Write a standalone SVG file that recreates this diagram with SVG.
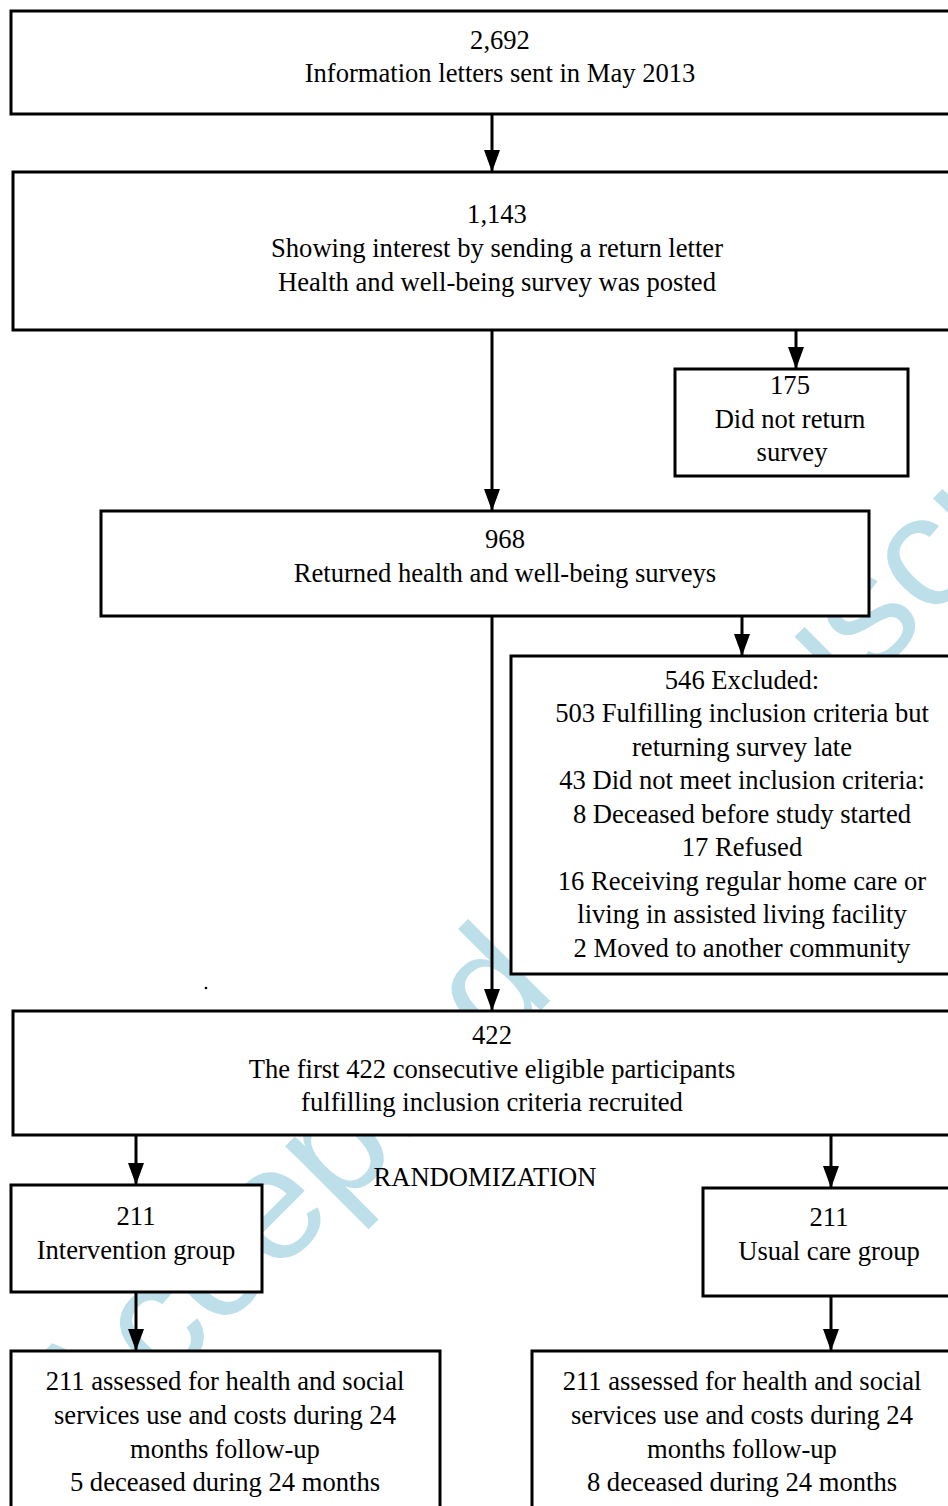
<svg xmlns="http://www.w3.org/2000/svg" width="948" height="1506" viewBox="0 0 948 1506">
<style>
.box{fill:#fff;stroke:#000;stroke-width:3}
.t{font-family:"Liberation Serif","Times New Roman",serif;font-size:26.6px;fill:#000;text-anchor:middle}
.c{stroke:#000;stroke-width:3;fill:none;marker-end:url(#ah)}
.wm{font-family:"Liberation Sans",Arial,sans-serif;font-size:160px;fill:#bcdfea}
</style>
<defs>
<marker id="ah" viewBox="0 0 22 16" refX="22" refY="8" markerWidth="22" markerHeight="16" markerUnits="userSpaceOnUse" orient="auto">
<path d="M0,0 L22,8 L0,16 z" fill="#000"/>
</marker>
</defs>
<rect width="948" height="1506" fill="#fff"/>
<text class="wm" transform="translate(86,1465) rotate(-45)">Accepted Manuscript</text>

<g id="n1"><rect class="box" x="11" y="11" width="980" height="103"/>
<text class="t" x="500" y="49">2,692</text><text class="t" x="500" y="82">Information letters sent in May 2013</text></g>

<g id="n2"><rect class="box" x="13" y="172" width="980" height="158"/>
<text class="t" x="497" y="223">1,143</text><text class="t" x="497" y="257">Showing interest by sending a return letter</text><text class="t" x="497" y="291">Health and well-being survey was posted</text></g>

<g id="n3"><rect class="box" x="675" y="369" width="233" height="107"/>
<text class="t" x="790" y="394">175</text><text class="t" x="790" y="428">Did not return</text><text class="t" x="792" y="461">survey</text></g>

<g id="n4"><rect class="box" x="101" y="511" width="768" height="105"/>
<text class="t" x="505" y="548">968</text><text class="t" x="505" y="582">Returned health and well-being surveys</text></g>

<g id="n5"><rect class="box" x="511" y="656" width="465" height="318"/>
<text class="t" x="742" y="689">546 Excluded:</text>
<text class="t" x="742" y="722">503 Fulfilling inclusion criteria but</text>
<text class="t" x="742" y="756">returning survey late</text>
<text class="t" x="742" y="789">43 Did not meet inclusion criteria:</text>
<text class="t" x="742" y="823">8 Deceased before study started</text>
<text class="t" x="742" y="856">17 Refused</text>
<text class="t" x="742" y="890">16 Receiving regular home care or</text>
<text class="t" x="742" y="923">living in assisted living facility</text>
<text class="t" x="742" y="957">2 Moved to another community</text></g>

<circle cx="206" cy="988" r="1.3" fill="#000"/>

<g id="n6"><rect class="box" x="13" y="1011" width="980" height="124"/>
<text class="t" x="492" y="1044">422</text><text class="t" x="492" y="1078">The first 422 consecutive eligible participants</text><text class="t" x="492" y="1111">fulfilling inclusion criteria recruited</text></g>

<text id="rand" class="t" x="485" y="1186">RANDOMIZATION</text>

<g id="n7"><rect class="box" x="11" y="1185" width="251" height="107"/>
<text class="t" x="136" y="1225">211</text><text class="t" x="136" y="1259">Intervention group</text></g>

<g id="n8"><rect class="box" x="703" y="1188" width="260" height="108"/>
<text class="t" x="829" y="1226">211</text><text class="t" x="829" y="1260">Usual care group</text></g>

<g id="n9"><rect class="box" x="11" y="1351" width="429" height="170"/>
<text class="t" x="225" y="1390">211 assessed for health and social</text>
<text class="t" x="225" y="1424">services use and costs during 24</text>
<text class="t" x="225" y="1458">months follow-up</text>
<text class="t" x="225" y="1491">5 deceased during 24 months</text></g>

<g id="n10"><rect class="box" x="532" y="1351" width="430" height="170"/>
<text class="t" x="742" y="1390">211 assessed for health and social</text>
<text class="t" x="742" y="1424">services use and costs during 24</text>
<text class="t" x="742" y="1458">months follow-up</text>
<text class="t" x="742" y="1491">8 deceased during 24 months</text></g>

<g id="connectors">
<line class="c" x1="492" y1="114" x2="492" y2="172"/>
<line class="c" x1="796" y1="330" x2="796" y2="369"/>
<line class="c" x1="492" y1="330" x2="492" y2="511"/>
<line class="c" x1="742" y1="616" x2="742" y2="656"/>
<line class="c" x1="492" y1="616" x2="492" y2="1011"/>
<line class="c" x1="136" y1="1135" x2="136" y2="1185"/>
<line class="c" x1="831" y1="1135" x2="831" y2="1188"/>
<line class="c" x1="136" y1="1292" x2="136" y2="1351"/>
<line class="c" x1="831" y1="1296" x2="831" y2="1351"/>
</g>
</svg>
